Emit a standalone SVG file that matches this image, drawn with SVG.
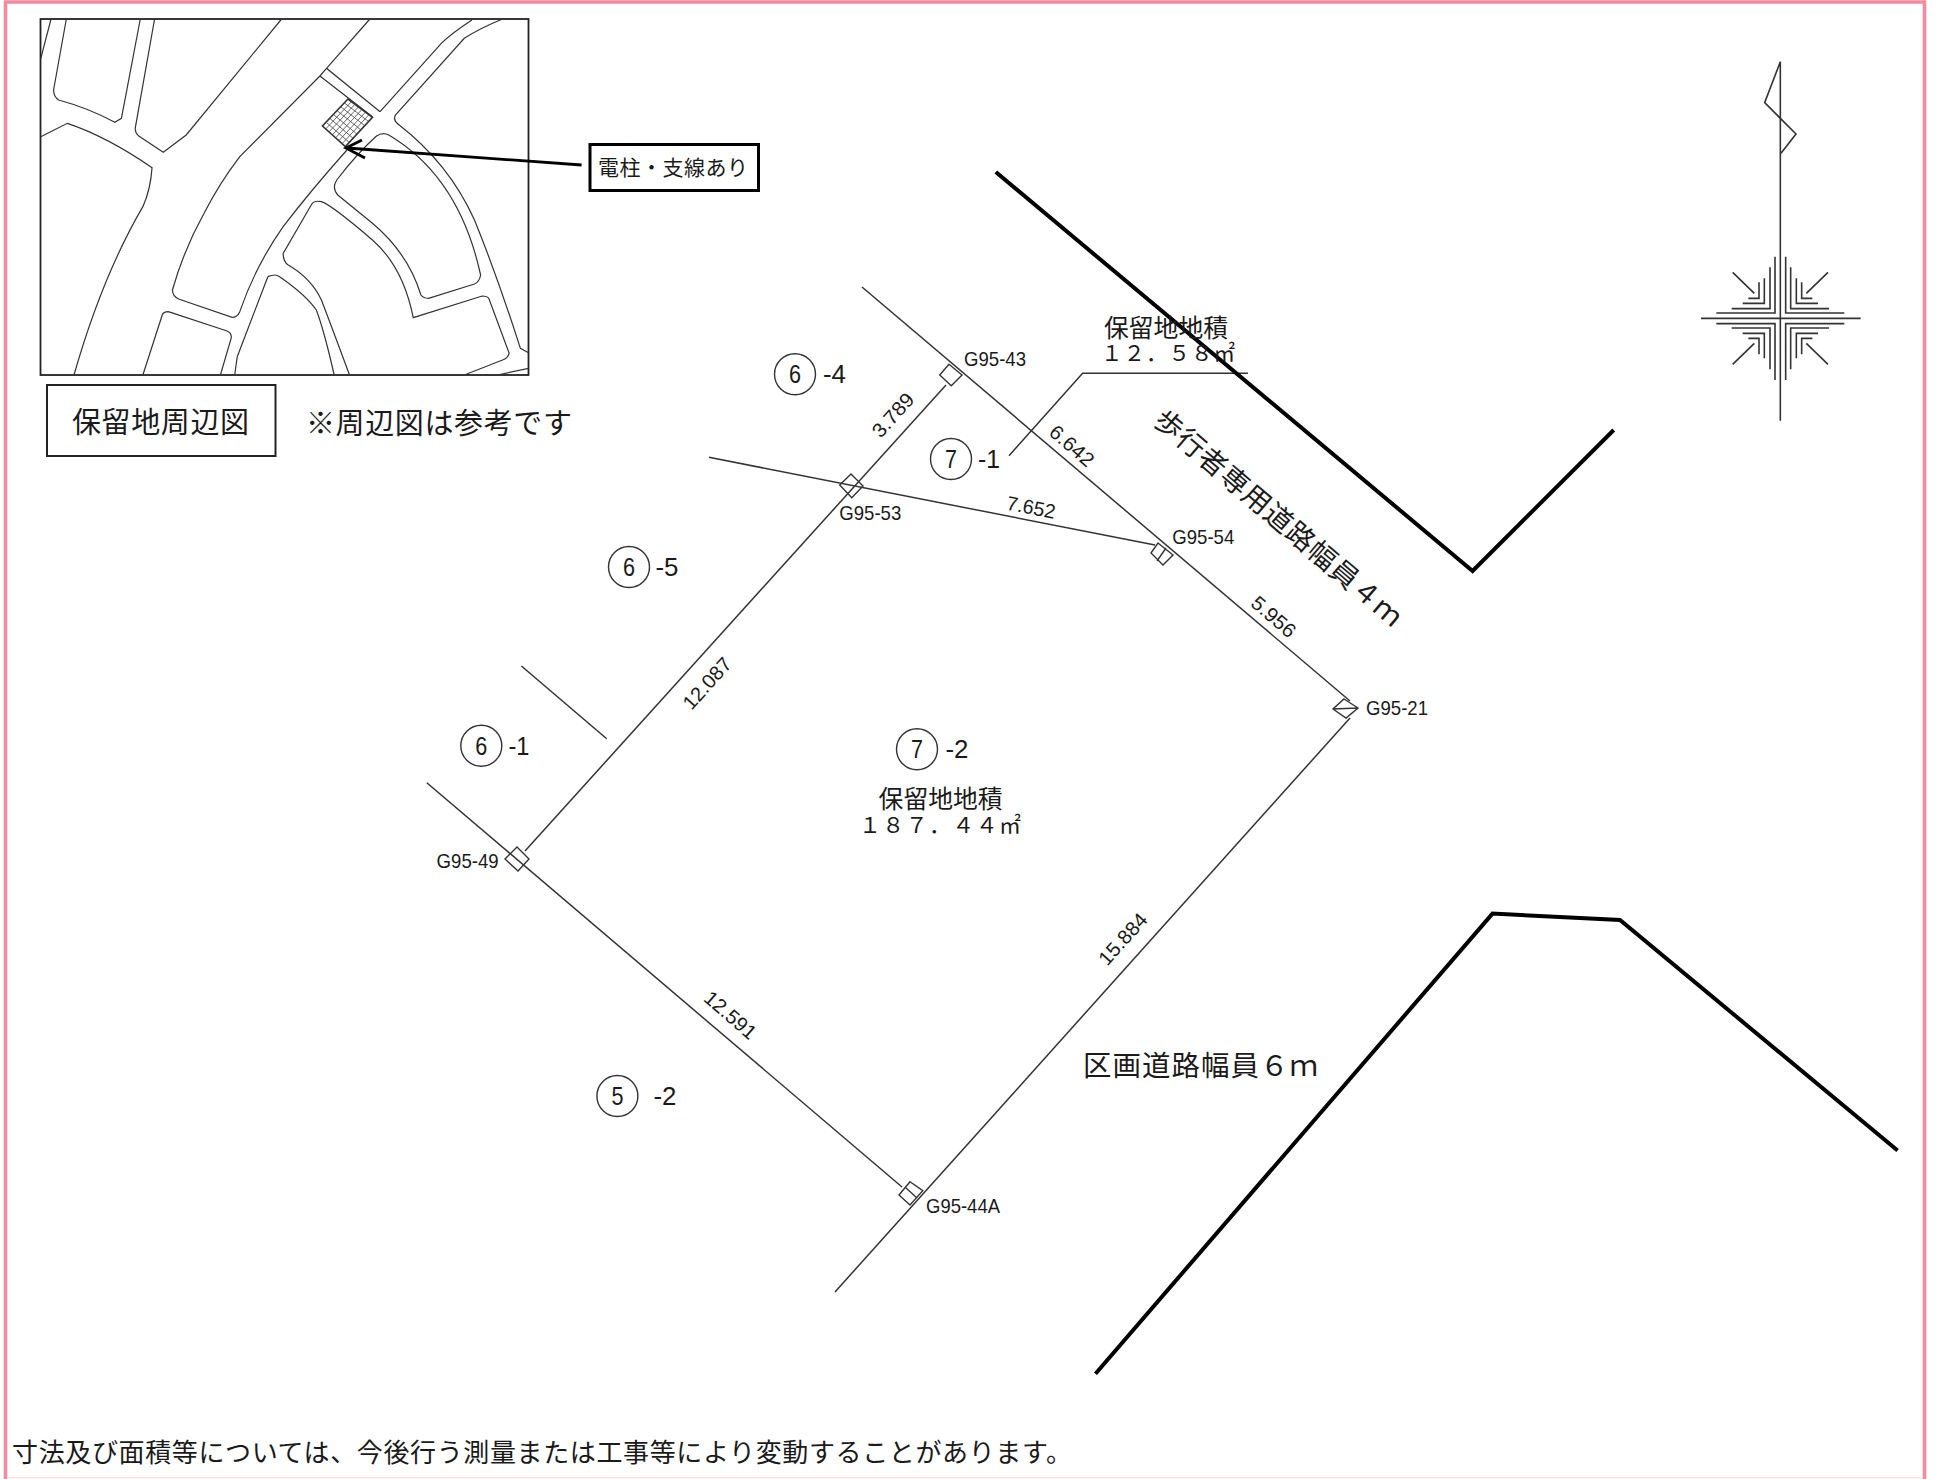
<svg xmlns="http://www.w3.org/2000/svg" width="1942" height="1479" viewBox="0 0 1942 1479">
<style>
text{fill:#1a1a1a}
.j{font-family:"Noto Sans CJK JP","Noto Sans CJK SC",sans-serif;font-weight:400;dominant-baseline:central}
.n{font-family:"Liberation Sans",Arial,sans-serif;font-size:21px}
.d{font-family:"Liberation Sans",Arial,sans-serif;font-size:20px;text-anchor:middle;dominant-baseline:central}
.c{font-family:"Liberation Sans",Arial,sans-serif;font-size:25px;text-anchor:middle;dominant-baseline:central}
.s{fill:none;stroke:#333;stroke-width:1.5}
.m{fill:none;stroke:#333;stroke-width:1.2;vector-effect:non-scaling-stroke}
.g{fill:none;stroke:#444;stroke-width:.8;vector-effect:non-scaling-stroke}
.r{fill:none;stroke:#000;stroke-width:4;stroke-linejoin:miter}
.t{fill:none;stroke:#333;stroke-width:1.6;vector-effect:non-scaling-stroke}
.o{fill:none;stroke:#333;stroke-width:1.4}
</style>
<defs>
<g id="quad"><path class="t" d="M375 680V849H199M360 712V836H245M343 745V820H278M327 757V805H295M248 727L313 790"/></g>
</defs>
<rect width="1942" height="1479" fill="#fff"/>
<path id="border" d="M5.500 1479V2H1924.500V1479" fill="none" stroke="#f08ba0" stroke-width="3.6"/>
<path id="border-bottom" d="M7 1477.800H1923" fill="none" stroke="#fbe3e8" stroke-width="1.5"/>

<g id="map">
<rect x="40.500" y="19" width="488" height="356" fill="#fff" stroke="#222" stroke-width="1.8"/>
<g transform="scale(0.5102,0.33333)">
<path class="m" d="M100 57L80 175M130 57L105 270Q105 290 115 300Q175 325 225 367L238 355L275 57M303 57L265 385Q265 400 272 408L320 457L365 405L552 57M80 410L132 370Q210 410 298 503Q295 570 280 620Q200 830 145 1125"/>
<path class="m" d="M725 57L640 205L745 335M627 228L730 350M640 205L627 228L470 470Q430 550 400 640Q360 750 338 870Q338 888 350 897L455 952Q465 952 470 935Q500 800 555 680Q610 570 680 450"/>
<path class="m" d="M745 335L865 130Q885 100 925 60M985 57Q940 85 910 115L775 345Q770 360 780 372Q880 490 930 660Q975 830 1020 1045L1036 1058"/>
<path class="m" d="M738 408Q750 395 762 405Q900 530 942 825Q940 845 930 852L840 895Q830 895 825 885Q800 760 730 670L662 585Q650 565 660 540Q700 460 738 408Z"/>
<path class="m" d="M630 605Q650 615 730 720Q790 800 810 953L945 888Q955 888 958 895L998 1060Q995 1075 985 1080L910 1125M630 605Q615 600 610 615L555 760Q555 785 565 795Q610 835 630 900Q650 980 685 1125"/>
<path class="m" d="M525 830Q540 820 548 830Q600 885 620 930Q635 990 655 1125M525 830L465 1070L460 1125M330 935L445 993Q455 1000 453 1015L432 1125M330 935Q320 935 318 945L280 1125M975 1125L1036 1105"/>
<path class="t" d="M682 297L730 352L677 440L632 378Z"/>
<path class="g" d="M688.900 304.900L638.400 386.900M695.700 312.700L644.900 395.700M702.600 320.600L651.300 404.600M709.400 328.400L657.700 413.400M716.300 336.300L664.100 422.300M723.100 344.100L670.600 431.100M674.900 308.600L722.400 364.600M667.700 320.100L714.900 377.100M660.600 331.700L707.300 389.700M653.400 343.300L699.700 402.300M646.300 354.900L692.100 414.900M639.100 366.400L684.600 427.400"/>
</g>
</g>

<g id="callout">
<path d="M581.600 165L347 148M362 140L346 148L365 158" fill="none" stroke="#000" stroke-width="2.800"/>
<rect x="590" y="144.500" width="168.500" height="46" fill="#fff" stroke="#000" stroke-width="3"/>
<text class="j" x="598" y="165.500" font-size="21" textLength="150">電柱・支線あり</text>
</g>

<g id="map-title">
<rect x="47" y="385" width="228.500" height="71" fill="#fff" stroke="#222" stroke-width="2"/>
<text class="j" x="72" y="419.500" font-size="29" textLength="177">保留地周辺図</text>
</g>
<text id="map-note" class="j" x="306" y="421" font-size="29" textLength="266">※周辺図は参考です</text>

<g id="compass" transform="translate(1650,30) scale(0.33333)">
<path class="t" d="M391 1172V95L344 218L438 312L393 370M153 865H632"/>
<use href="#quad"/>
<use href="#quad" transform="matrix(-1 0 0 1 782 0)"/>
<use href="#quad" transform="matrix(1 0 0 -1 0 1730)"/>
<use href="#quad" transform="matrix(-1 0 0 -1 782 1730)"/>
</g>

<g id="connectors">
<path class="s" d="M862 287L1350 701"/>
<path class="s" d="M946 385L525 851"/>
<path class="s" d="M709 457.300L1155 545"/>
<path class="s" d="M1350 718L835 1292"/>
<path class="s" d="M426.800 782.700L902 1187"/>
<path class="s" d="M521.400 666L606.700 738.700"/>
<path class="s" d="M1009 455.700L1082.600 373.300H1248"/>
<path class="r" d="M995.800 172L1472.600 571L1613.700 430"/>
<path class="r" d="M1095.500 1373.700L1492.500 913.600L1620 920L1897.600 1150.500"/>
</g>

<g id="G95-43">
<path class="o" d="M949 364.300L962 375L951.300 385.700L939.700 375Z"/>
<text class="n" x="964" y="366" textLength="62" lengthAdjust="spacingAndGlyphs">G95-43</text>
</g>
<g id="G95-53">
<path class="o" d="M851 474L863 486L851.800 497.700L839.700 485Z"/>
<text class="n" x="839.300" y="520" textLength="62" lengthAdjust="spacingAndGlyphs">G95-53</text>
</g>
<g id="G95-54">
<path class="o" d="M1158 543L1173 555L1163 565L1151 553ZM1166 548L1157 561"/>
<text class="n" x="1172.300" y="544" textLength="62" lengthAdjust="spacingAndGlyphs">G95-54</text>
</g>
<g id="G95-21">
<path class="o" d="M1344 699L1358 708L1346 718L1333 709ZM1333 709L1358 708"/>
<text class="n" x="1366" y="715" textLength="62" lengthAdjust="spacingAndGlyphs">G95-21</text>
</g>
<g id="G95-49">
<path class="o" d="M517 847L529 859L518 871L505 859Z"/>
<text class="n" x="436.600" y="868" textLength="62" lengthAdjust="spacingAndGlyphs">G95-49</text>
</g>
<g id="G95-44A">
<path class="o" d="M910 1181.700L922.800 1190.700L910 1205L899 1195ZM905 1187L917 1198"/>
<text class="n" x="926" y="1213" textLength="74" lengthAdjust="spacingAndGlyphs">G95-44A</text>
</g>

<g id="dimensions">
<text class="d" transform="translate(892.900,415) rotate(-48)" textLength="52" lengthAdjust="spacingAndGlyphs">3.789</text>
<text class="d" transform="translate(1071.900,445.700) rotate(41)" textLength="52" lengthAdjust="spacingAndGlyphs">6.642</text>
<text class="d" transform="translate(1031.200,507.300) rotate(11)" textLength="49" lengthAdjust="spacingAndGlyphs">7.652</text>
<text class="d" transform="translate(1273.700,616.700) rotate(41)" textLength="52" lengthAdjust="spacingAndGlyphs">5.956</text>
<text class="d" transform="translate(707,683.300) rotate(-48)" textLength="62" lengthAdjust="spacingAndGlyphs">12.087</text>
<text class="d" transform="translate(730.400,1015) rotate(41)" textLength="62" lengthAdjust="spacingAndGlyphs">12.591</text>
<text class="d" transform="translate(1122.800,939) rotate(-48)" textLength="62" lengthAdjust="spacingAndGlyphs">15.884</text>
</g>

<g id="lot-6-4"><circle class="o" cx="795" cy="374.300" r="20.500"/><text class="c" x="795" y="374.300" textLength="12" lengthAdjust="spacingAndGlyphs">6</text><text class="c" x="834.500" y="374.300" textLength="23" lengthAdjust="spacingAndGlyphs">-4</text></g>
<g id="lot-7-1"><circle class="o" cx="951" cy="459" r="20.500"/><text class="c" x="951" y="459" textLength="12" lengthAdjust="spacingAndGlyphs">7</text><text class="c" x="989" y="459" textLength="22" lengthAdjust="spacingAndGlyphs">-1</text></g>
<g id="lot-6-5"><circle class="o" cx="629" cy="567" r="20.500"/><text class="c" x="629" y="567" textLength="12" lengthAdjust="spacingAndGlyphs">6</text><text class="c" x="667" y="567" textLength="23" lengthAdjust="spacingAndGlyphs">-5</text></g>
<g id="lot-6-1"><circle class="o" cx="481.300" cy="745.700" r="20.500"/><text class="c" x="481.300" y="745.700" textLength="12" lengthAdjust="spacingAndGlyphs">6</text><text class="c" x="519" y="745.700" textLength="21" lengthAdjust="spacingAndGlyphs">-1</text></g>
<g id="lot-7-2"><circle class="o" cx="917" cy="749.300" r="20.500"/><text class="c" x="917" y="749.300" textLength="12" lengthAdjust="spacingAndGlyphs">7</text><text class="c" x="957" y="749.300" textLength="23" lengthAdjust="spacingAndGlyphs">-2</text></g>
<g id="lot-5-2"><circle class="o" cx="617.400" cy="1096" r="20.500"/><text class="c" x="617.400" y="1096" textLength="12" lengthAdjust="spacingAndGlyphs">5</text><text class="c" x="665" y="1096" textLength="23" lengthAdjust="spacingAndGlyphs">-2</text></g>

<g id="area-7-1">
<text class="j" x="1104" y="326" font-size="24.800" textLength="124">保留地地積</text>
<text class="j" x="1101" y="351.500" font-size="21.600" textLength="134">１２．５８㎡</text>
</g>
<g id="area-7-2">
<text class="j" x="878.600" y="796.800" font-size="24.800" textLength="124">保留地地積</text>
<text class="j" x="859" y="822.500" font-size="22" textLength="162">１８７．４４㎡</text>
</g>
<text id="road-4m" class="j" font-size="28" text-anchor="middle" transform="translate(1280,516.500) rotate(40.500)" textLength="316">歩行者専用道路幅員４ｍ</text>
<text id="road-6m" class="j" x="1083" y="1063" font-size="28.500" textLength="235">区画道路幅員６ｍ</text>
<text id="footnote" class="j" x="12" y="1450" font-size="26" textLength="1060">寸法及び面積等については、今後行う測量または工事等により変動することがあります。</text>
</svg>
